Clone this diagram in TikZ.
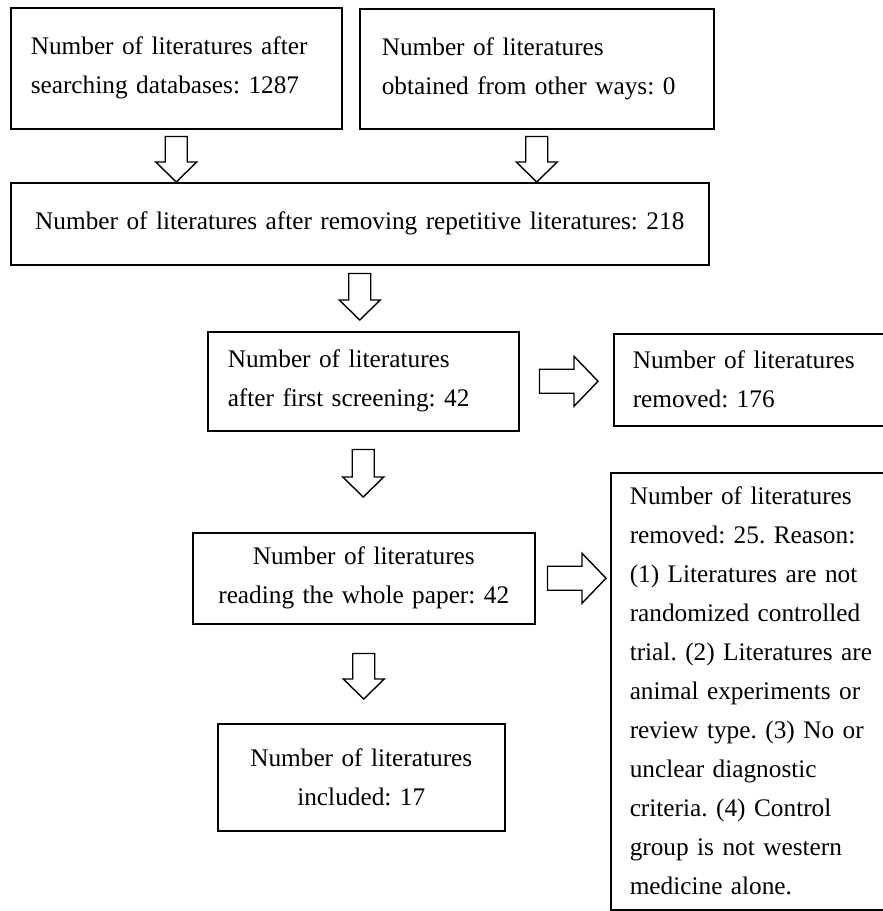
\documentclass[tikz,border=0pt]{standalone}
\usepackage{fontspec}
\setmainfont{Liberation Serif}
\usetikzlibrary{calc}
\tikzset{
  box/.style={draw, line width=1.5pt, inner ysep=0pt, anchor=north west,
    font=\fontsize{25.3}{39}\selectfont\frenchspacing},
  leftbox/.style={box, align=left},
  centerbox/.style={box, align=center},
  blk/.style={draw, line width=1.4pt, fill=white, line join=miter},
}
% hollow block arrow pointing down: source, target, gap at start, gap at tip
\newcommand\myvarrow[4]{%
  \draw[blk] let \p1=(#1.south), \p2=(#2.north) in
    (\x1-11pt,\y1-#3pt) -- (\x1+11pt,\y1-#3pt) -- (\x1+11pt,\y2+#4pt+20pt)
    -- (\x1+20.5pt,\y2+#4pt+20pt) -- (\x1,\y2+#4pt) -- (\x1-20.5pt,\y2+#4pt+20pt)
    -- (\x1-11pt,\y2+#4pt+20pt) -- cycle;}
% hollow block arrow pointing right
\newcommand\myharrow[4]{%
  \draw[blk] let \p1=(#1.east), \p2=(#2.west) in
    (\x1+#3pt,\y1+12pt) -- (\x2-#4pt-24pt,\y1+12pt) -- (\x2-#4pt-24pt,\y1+25pt)
    -- (\x2-#4pt,\y1) -- (\x2-#4pt-24pt,\y1-25pt) -- (\x2-#4pt-24pt,\y1-12pt)
    -- (\x1+#3pt,\y1-12pt) -- cycle;}
\begin{document}
\frenchspacing
\begin{tikzpicture}[x=1pt,y=-1pt]
\useasboundingbox (0,0) rectangle (883,911);
\clip (0,0) rectangle (883,911);

\node[leftbox, text width=291pt, inner xsep=20pt, minimum width=331pt, minimum height=121pt]
  (A) at (10,7) {Number of literatures after\\searching databases: 1287};
\node[leftbox, text width=310pt, inner xsep=22pt, minimum width=354pt, minimum height=120pt]
  (B) at (359,8) {Number of literatures\\obtained from other ways: 0};
\node[centerbox, text width=678pt, inner xsep=10pt, minimum width=698pt, minimum height=82pt]
  (C) at (10,182) {Number of literatures after removing repetitive literatures: 218};
\node[leftbox, text width=271pt, inner xsep=20pt, minimum width=311pt, minimum height=99pt]
  (D) at (207,331) {Number of literatures\\after first screening: 42};
\node[leftbox, text width=247pt, inner xsep=19pt, minimum width=285pt, minimum height=92pt]
  (E) at (613,333) {Number of literatures\\removed: 176};
\node[centerbox, text width=322pt, inner xsep=10pt, minimum width=342pt, minimum height=91pt]
  (F) at (192,532) {Number of literatures\\reading the whole paper: 42};
\node[centerbox, text width=267pt, inner xsep=10pt, minimum width=287pt, minimum height=107pt]
  (G) at (217,723) {Number of literatures\\included: 17};
\node[leftbox, text width=250pt, inner xsep=19pt, minimum width=288pt, minimum height=437pt]
  (H) at (610,472) {Number of literatures\\removed: 25. Reason:\\(1) Literatures are not\\randomized controlled\\trial. (2) Literatures are\\animal experiments or\\review type. (3) No or\\unclear diagnostic\\criteria. (4) Control\\group is not western\\medicine alone.};

\myvarrow{A}{C}{7}{0}
\myvarrow{B}{C}{7}{0}
\myvarrow{C}{D}{8}{11}
\myvarrow{D}{F}{18}{35}
\myvarrow{F}{G}{29}{24}
\myharrow{D}{E}{20}{15}
\myharrow{F}{H}{12}{4}
\end{tikzpicture}
\end{document}
